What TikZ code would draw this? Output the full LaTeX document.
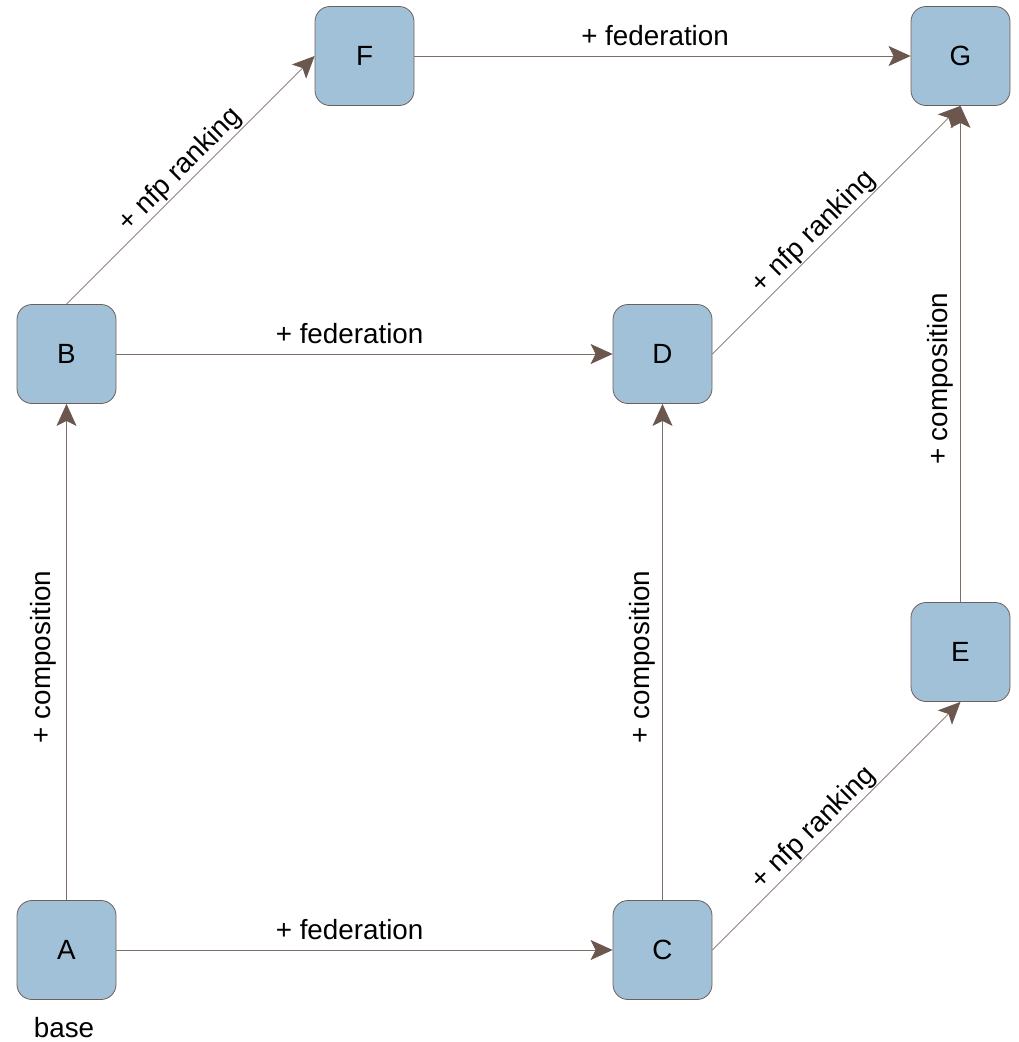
\documentclass[tikz,border=0pt]{standalone}
\usepackage{fontspec}
\setmainfont{Liberation Sans}
\usetikzlibrary{arrows.meta}
\definecolor{boxfill}{RGB}{161,193,217}
\definecolor{boxline}{RGB}{110,95,88}
\definecolor{edgeline}{RGB}{125,110,102}
\definecolor{tipcol}{RGB}{107,87,77}
\begin{document}
\begin{tikzpicture}[x=1pt,y=-1pt,
  font=\fontsize{27.8}{33}\selectfont,
  stage/.style={draw=boxline, fill=boxfill, line width=0.8pt, rounded corners=15pt,
    minimum width=99pt, minimum height=99pt, inner sep=0pt},
  link/.style={draw=edgeline, line width=0.8pt,
    -{Stealth[length=22pt,width=20pt,inset=5pt,color=tipcol]}},
  lab/.style={sloped, above=#1, inner sep=4pt},
  lab/.default=6pt]
\useasboundingbox (0,0) rectangle (1019,1042);

\node[stage] (A) at (66.5,950) {A};
\node[stage] (B) at (66.5,354) {B};
\node[stage] (C) at (662.5,950) {C};
\node[stage] (D) at (662.5,354) {D};
\node[stage] (E) at (960.5,652) {E};
\node[stage] (F) at (364.5,56) {F};
\node[stage] (G) at (960.5,56) {G};
\node (base) at (64,1028) {base};

% composition edges
\draw[link] (A.north) -- node[lab=6pt, pos=0.49] {+ composition} (B.south);
\draw[link] (C.north) -- node[lab=3pt, pos=0.49] {+ composition} (D.south);
\draw[link] (E.north) -- node[lab=3pt, pos=0.45] {+ composition} (G.south);

% federation edges
\draw[link] (A.east) -- node[lab, pos=0.47] {+ federation} (C.west);
\draw[link] (B.east) -- node[lab, pos=0.47] {+ federation} (D.west);
\draw[link] (F.east) -- node[lab, pos=0.485] {+ federation} (G.west);

% nfp ranking edges
\draw[link] (B.north) -- node[lab=-3pt, pos=0.5] {+ nfp ranking} (F.west);
\draw[link] (C.east) -- node[lab=-3pt, pos=0.45] {+ nfp ranking} (E.south);
\draw[link] (D.east) -- node[lab=-3pt, pos=0.45] {+ nfp ranking} (G.south);
\end{tikzpicture}
\end{document}
